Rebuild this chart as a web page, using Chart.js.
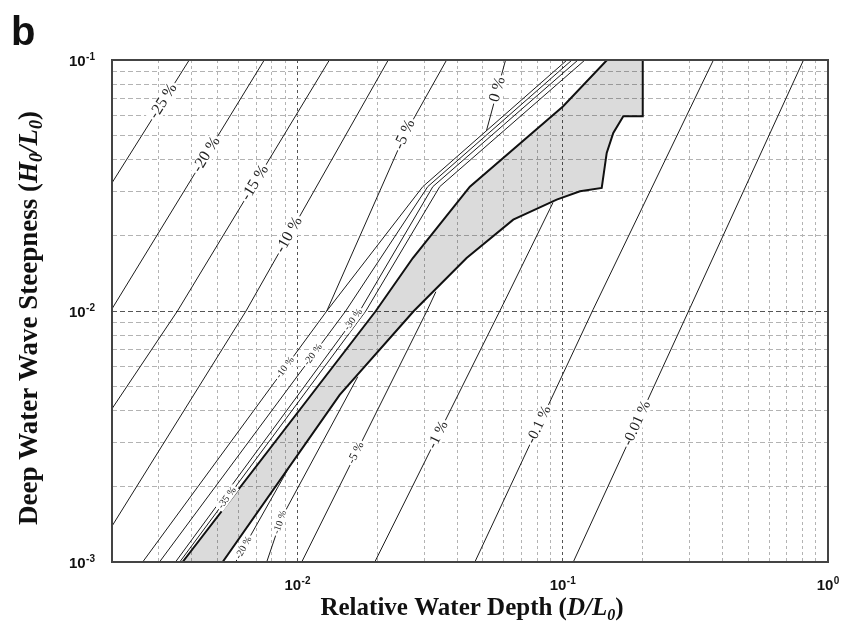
<!DOCTYPE html>
<html><head><meta charset="utf-8">
<script src="https://cdn.jsdelivr.net/npm/chart.js@4/dist/chart.umd.min.js"></script>
<style>html,body{margin:0;padding:0;background:#fff;}#wrap{position:relative;width:843px;height:626px;}</style>
</head><body><div id="wrap"><canvas id="c" width="843" height="626" style="width:843px;height:626px"></canvas></div>
<script>
// ---------- axis ranges and tick labels ----------
const xMin = 0.002, xMax = 1;
const yMin = 0.001, yMax = 0.1;
const xTickValues = [0.01, 0.1, 1];
const xTickExps = ['-2', '-1', '0'];
const yTickValues = [0.001, 0.01, 0.1];
const yTickExps = ['-3', '-2', '-1'];

// ---------- contour lines (D/L0, H0/L0) ----------
const m25X = [0.002, 0.00391];           const m25Y = [0.0324, 0.1];
const m20X = [0.002, 0.00750];           const m20Y = [0.0102, 0.1];
const m15X = [0.002, 0.00353, 0.0132];   const m15Y = [0.00408, 0.01, 0.1];
const m10X = [0.002, 0.00640, 0.0220];   const m10Y = [0.00139, 0.01, 0.1];
const m5X  = [0.0129, 0.0254, 0.0365];   const m5Y  = [0.01, 0.0505, 0.1];
const z0X  = [0.0516, 0.0609];           const z0Y  = [0.0523, 0.1];

// band-side contours (upper side)
const b10X = [0.00261, 0.0129, 0.0297, 0.1038]; const b10Y = [0.001, 0.01, 0.0313, 0.1];
const b20X = [0.00302, 0.0152, 0.0310, 0.1084]; const b20Y = [0.001, 0.01, 0.0313, 0.1];
const b30X = [0.00347, 0.01718, 0.0324, 0.1142]; const b30Y = [0.001, 0.01, 0.0313, 0.1];
const b35X = [0.00360, 0.0181, 0.0344, 0.1213]; const b35Y = [0.001, 0.01, 0.0313, 0.1];

// shaded region boundaries
const upX = [0.00369, 0.01974, 0.02723, 0.04467, 0.1002, 0.1469];
const upY = [0.001, 0.01, 0.01626, 0.0313, 0.06525, 0.1];
const loX = [0.005224, 0.01443, 0.02746, 0.04342, 0.06509, 0.0949, 0.1162, 0.1403, 0.1465, 0.1551, 0.1692, 0.2003, 0.2003];
const loY = [0.001, 0.004634, 0.01, 0.01626, 0.02311, 0.02778, 0.02998, 0.03093, 0.04265, 0.05125, 0.05969, 0.05969, 0.1];

// band-side contours (lower side) and deep-water side
const l20X = [0.00585, 0.00927];          const l20Y = [0.001, 0.00237];
const l10X = [0.00766, 0.00872, 0.01688]; const l10Y = [0.001, 0.0015, 0.00547];
const l5X  = [0.01038, 0.03076, 0.03325]; const l5Y  = [0.001, 0.01, 0.01193];
const l1X  = [0.01957, 0.05951, 0.0919];  const l1Y  = [0.001, 0.01059, 0.02702];
const p01X = [0.04665, 0.1301, 0.370];    const p01Y = [0.001, 0.01012, 0.1];
const p001X = [0.1096, 0.3021, 0.8087];   const p001Y = [0.001, 0.0103, 0.1];

// ---------- contour labels ----------
const contourLabels = [
  {t:'-25 %', on:'m25', y:0.0685, s:16},
  {t:'-20 %', on:'m20', y:0.042, s:16},
  {t:'-15 %', on:'m15', y:0.0324, s:16},
  {t:'-10 %', on:'m10', y:0.0201, s:16},
  {t:'-5 %', on:'m5', y:0.0505, s:16},
  {t:'0 %', on:'z0', y:0.0763, s:16},
  {t:'-1 %', on:'l1', y:0.00321, s:15},
  {t:'-0.1 %', on:'p01', y:0.00352, s:15},
  {t:'-0.01 %', on:'p001', y:0.00357, s:15},
  {t:'-10 %', on:'b10', y:0.00594, s:10},
  {t:'-20 %', on:'b20', y:0.00669, s:10},
  {t:'-30 %', on:'b30', y:0.00923, s:10},
  {t:'-35 %', on:'b35', y:0.0018, s:10},
  {t:'-20 %', on:'l20', y:0.00114, s:10},
  {t:'-10 %', on:'l10', y:0.00144, s:10},
  {t:'-5 %', on:'l5', y:0.00272, s:12}
];

const pts = (xs, ys) => xs.map((x, i) => ({x, y: ys[i]}));
const thin = (key, xs, ys) => ({key, data: pts(xs, ys), showLine: true, borderColor: '#1c1c1c', borderWidth: 1, pointRadius: 0, tension: 0, fill: false});
const thick = (key, xs, ys) => ({key, data: pts(xs, ys), showLine: true, borderColor: '#111', borderWidth: 2, pointRadius: 0, tension: 0, fill: false});

const shadePts = pts(upX, upY).concat(pts(loX, loY).reverse());

const datasets = [
  thin('m25', m25X, m25Y), thin('m20', m20X, m20Y), thin('m15', m15X, m15Y),
  thin('m10', m10X, m10Y), thin('m5', m5X, m5Y), thin('z0', z0X, z0Y),
  thin('b10', b10X, b10Y), thin('b20', b20X, b20Y), thin('b30', b30X, b30Y), thin('b35', b35X, b35Y),
  thin('l20', l20X, l20Y), thin('l10', l10X, l10Y), thin('l5', l5X, l5Y), thin('l1', l1X, l1Y),
  thin('p01', p01X, p01Y), thin('p001', p001X, p001Y),
  thick('up', upX, upY), thick('lo', loX, loY),
  {key:'shade', data: shadePts, showLine: true, borderWidth: 0, borderColor: 'rgba(0,0,0,0)', pointRadius: 0, tension: 0,
   fill: 'shape', backgroundColor: 'rgba(0,0,0,0.14)'}
];

function isDecade(v) { const l = Math.log10(v); return Math.abs(l - Math.round(l)) < 1e-6; }
function logTicks(min, max) {
  const out = [];
  for (let e = -4; e <= 1; e++) for (let k = 1; k <= 9; k++) {
    const v = Number((k * Math.pow(10, e)).toPrecision(3));
    if (v >= min * 0.999 && v <= max * 1.001) out.push({value: v, major: k === 1});
  }
  return out;
}

const SANS = '"Liberation Sans", Arial, sans-serif';
const SERIF = '"Liberation Serif", "Times New Roman", serif';

function drawPow(ctx, exp, x, baseY, align) {
  ctx.font = 'bold 15px ' + SANS;
  const w1 = ctx.measureText('10').width;
  ctx.font = 'bold 10px ' + SANS;
  const w2 = ctx.measureText(exp).width;
  const total = w1 + w2 + 0.5;
  const x0 = align === 'right' ? x - total : x - total / 2;
  ctx.textAlign = 'left'; ctx.textBaseline = 'alphabetic'; ctx.fillStyle = '#111';
  ctx.font = 'bold 15px ' + SANS; ctx.fillText('10', x0, baseY);
  ctx.font = 'bold 10px ' + SANS; ctx.fillText(exp, x0 + w1 + 0.5, baseY - 6);
}

function drawRuns(ctx, runs, cx, baseY) {
  let total = 0;
  runs.forEach(r => { ctx.font = r.f; r.w = ctx.measureText(r.t).width; total += r.w; });
  let x = cx - total / 2;
  ctx.textAlign = 'left'; ctx.textBaseline = 'alphabetic'; ctx.fillStyle = '#111';
  runs.forEach(r => { ctx.font = r.f; ctx.fillText(r.t, x, baseY + (r.dy || 0)); x += r.w; });
}

function titleRuns(main, a, aSub, b, size) {
  const B = 'bold ' + size + 'px ' + SERIF, I = 'italic bold ' + size + 'px ' + SERIF;
  const S = 'italic bold ' + Math.round(size * 0.65) + 'px ' + SERIF;
  const dy = Math.round(size * 0.2);
  const runs = [{t: main + ' (', f: B}, {t: a, f: I}];
  if (aSub) runs.push({t: '0', f: S, dy});
  runs.push({t: '/', f: I}, {t: b, f: I}, {t: '0', f: S, dy}, {t: ')', f: B});
  return runs;
}

const decor = {
  id: 'decor',
  afterDraw(chart) {
    const ctx = chart.ctx, ca = chart.chartArea, xs = chart.scales.x, ys = chart.scales.y;
    ctx.save();
    // contour labels
    contourLabels.forEach(l => {
      const ds = chart.data.datasets.find(d => d.key === l.on);
      const p = ds.data.map(q => [xs.getPixelForValue(q.x), ys.getPixelForValue(q.y)]);
      const ty = ys.getPixelForValue(l.y);
      for (let i = 0; i < p.length - 1; i++) {
        const [x1, y1] = p[i], [x2, y2] = p[i + 1];
        if ((ty - y1) * (ty - y2) <= 0 && y1 !== y2) {
          const t = (ty - y1) / (y2 - y1);
          const px = x1 + t * (x2 - x1);
          const ang = Math.atan2(y2 - y1, x2 - x1);
          ctx.save();
          ctx.translate(px, ty); ctx.rotate(ang);
          ctx.font = l.s + 'px ' + SERIF;
          const w = ctx.measureText(l.t).width;
          ctx.fillStyle = '#fff';
          ctx.fillRect(-w / 2 - 2, -l.s * 0.45, w + 4, l.s * 0.9);
          ctx.fillStyle = '#222'; ctx.textAlign = 'center'; ctx.textBaseline = 'middle';
          ctx.fillText(l.t, 0, 0);
          ctx.restore();
          break;
        }
      }
    });
    // frame
    ctx.strokeStyle = '#444'; ctx.lineWidth = 2;
    ctx.strokeRect(ca.left, ca.top, ca.right - ca.left, ca.bottom - ca.top);
    // tick labels
    xTickValues.forEach((v, i) => drawPow(ctx, xTickExps[i], xs.getPixelForValue(v), 590, 'center'));
    yTickValues.forEach((v, i) => drawPow(ctx, yTickExps[i], 95, ys.getPixelForValue(v) + 5.5, 'right'));
    // axis titles
    drawRuns(ctx, titleRuns('Relative Water Depth', 'D', false, 'L', 25), 472, 615);
    ctx.save();
    ctx.translate(37, 318); ctx.rotate(-Math.PI / 2);
    drawRuns(ctx, titleRuns('Deep Water Wave Steepness', 'H', true, 'L', 27), 0, 0);
    ctx.restore();
    // panel letter
    ctx.font = 'bold 40px ' + SANS; ctx.fillStyle = '#111'; ctx.textAlign = 'left'; ctx.textBaseline = 'alphabetic';
    ctx.fillText('b', 11, 45);
    ctx.restore();
  }
};

const gridFor = (dash) => ({
  grid: {
    drawTicks: false,
    color: c => (c.tick && isDecade(c.tick.value)) ? '#555' : '#b3b3b3',
    lineWidth: 1
  },
  border: {display: false, dash: dash}
});

new Chart(document.getElementById('c'), {
  type: 'scatter',
  data: {datasets},
  options: {
    responsive: false, animation: false, devicePixelRatio: 1,
    layout: {padding: {left: 112, top: 60, right: 15, bottom: 64}},
    plugins: {legend: {display: false}, tooltip: {enabled: false}},
    scales: {
      x: Object.assign({type: 'logarithmic', min: xMin, max: xMax,
        ticks: {display: false, autoSkip: false},
        afterBuildTicks: s => { s.ticks = logTicks(xMin, xMax); }}, gridFor([3, 3])),
      y: Object.assign({type: 'logarithmic', min: yMin, max: yMax,
        ticks: {display: false, autoSkip: false},
        afterBuildTicks: s => { s.ticks = logTicks(yMin, yMax); }}, gridFor([5, 3]))
    }
  },
  plugins: [decor]
});
</script></body></html>
